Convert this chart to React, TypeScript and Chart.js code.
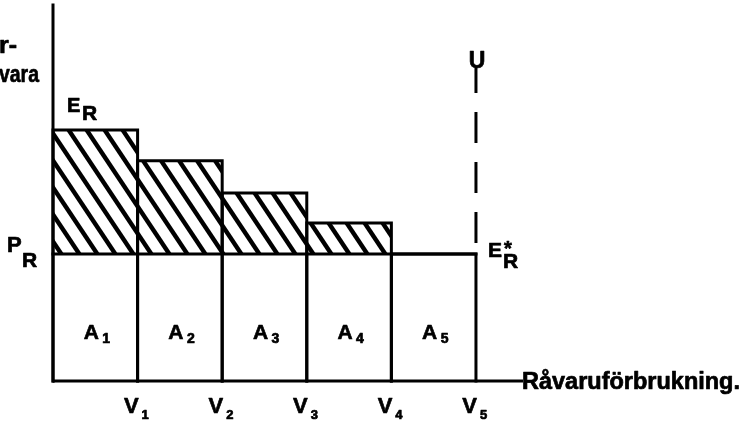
import React, { useEffect, useRef } from "react";
import { Chart, registerables } from "chart.js";

Chart.register(...registerables);

// ---- data ----
const boundaries = [0, 1, 2, 3, 4, 5]; // V0 .. V5 on the consumption axis
const costLevels = [5.93, 5.2, 4.44, 3.73, 3.0]; // E_R level of each block
const priceLevel = 3.0; // P_R
const vSubscripts = ["1", "2", "3", "4", "5"];
const areaSubscripts = ["1", "2", "3", "4", "5"];
const uLineRange = [3.17, 7.42]; // dashed U line (bottom, top)
const xAxisMax = 5.556;
const yAxisMax = 8.882;
const xAxisTitle = "Råvaruförbrukning.";
const yAxisTitleLines = ["r-", "vara"];

const FONT = "'Liberation Sans', Arial, sans-serif";

function makeHatch(): CanvasPattern | string {
  const W = 18;
  const H = 27;
  const c = document.createElement("canvas");
  c.width = W;
  c.height = H;
  const g = c.getContext("2d");
  if (!g) return "#000";
  g.fillStyle = "#fff";
  g.fillRect(0, 0, W, H);
  g.strokeStyle = "#000";
  g.lineWidth = 4.4;
  for (let k = -2; k <= 2; k++) {
    g.beginPath();
    g.moveTo(k * W - W, -H);
    g.lineTo(k * W + 2 * W, 2 * H);
    g.stroke();
  }
  const p = g.createPattern(c, "repeat");
  return p || "#000";
}

const textPlugin = {
  id: "diagramText",
  afterDraw(chart: any) {
    const ctx = chart.ctx as CanvasRenderingContext2D;
    const xs = chart.scales.x;
    const ys = chart.scales.y;
    const px = (v: number) => xs.getPixelForValue(v);
    const py = (v: number) => ys.getPixelForValue(v);
    const bold = (s: number) => `bold ${s}px ${FONT}`;
    ctx.save();
    ctx.fillStyle = "#000";
    ctx.strokeStyle = "#000";
    ctx.lineWidth = 0.7;
    ctx.lineJoin = "round";
    ctx.textBaseline = "alphabetic";

    const text = (t: string, x: number, y: number, size: number, align: CanvasTextAlign = "left") => {
      ctx.font = bold(size);
      ctx.textAlign = align;
      ctx.fillText(t, x, y);
      ctx.strokeText(t, x, y);
    };
    const fitText = (t: string, x: number, y: number, size: number, width: number, align: "left" | "right") => {
      ctx.font = bold(size);
      ctx.textAlign = "left";
      const w = ctx.measureText(t).width;
      const s = width / w;
      ctx.save();
      const left = align === "left" ? x : x - width;
      ctx.translate(left, y);
      ctx.scale(s, 1);
      ctx.fillText(t, 0, 0);
      ctx.strokeText(t, 0, 0);
      ctx.restore();
    };

    const x0 = px(0);
    const y0 = py(0);

    // V labels
    for (let i = 1; i < boundaries.length; i++) {
      const bx = px(boundaries[i]);
      text("V", bx + 1, y0 + 32, 22, "right");
      text(vSubscripts[i - 1], bx + 4, y0 + 38, 13, "left");
    }
    // A labels
    for (let i = 0; i < costLevels.length; i++) {
      const cx = (px(boundaries[i]) + px(boundaries[i + 1])) / 2;
      text("A", cx - 4, y0 - 42, 21, "center");
      text(areaSubscripts[i], cx + 7, y0 - 38, 14, "left");
    }
    // E_R
    const eTop = py(costLevels[0]);
    text("E", x0 + 14, eTop - 18, 20);
    text("R", x0 + 29, eTop - 10, 21);
    // P_R
    const pY = py(priceLevel);
    text("P", x0 - 46, pY - 2, 22);
    text("R", x0 - 31, pY + 13, 21);
    // E*_R
    const v5 = px(boundaries[boundaries.length - 1]);
    text("E", v5 + 12, pY + 3, 21);
    text("*", v5 + 28, pY + 1, 20);
    text("R", v5 + 27, pY + 14, 21);
    // U
    text("U", v5 + 1, py(uLineRange[1]) + 1, 23, "center");
    // axis titles
    fitText(xAxisTitle, px(xAxisMax) - 1, y0 + 8, 23, 218, "left");
    fitText(yAxisTitleLines[0], x0 - 36, py(yAxisMax) + 48, 24, 18, "right");
    fitText(yAxisTitleLines[1], x0 - 14, py(yAxisMax) + 77, 24, 40, "right");
    ctx.restore();
  },
};

export default function App() {
  const ref = useRef<HTMLCanvasElement | null>(null);
  useEffect(() => {
    if (!ref.current) return;
    const hatch = makeHatch();
    const line = (data: { x: number; y: number }[], extra: any = {}) => ({
      data,
      borderColor: "#000",
      borderWidth: 3,
      pointRadius: 0,
      fill: false,
      tension: 0,
      clip: false,
      borderJoinStyle: "miter",
      borderCapStyle: "square",
      order: 1,
      ...extra,
    });
    const datasets: any[] = [];
    // axes
    datasets.push(line([{ x: 0, y: 0 }, { x: 0, y: yAxisMax }]));
    datasets.push(line([{ x: 0, y: 0 }, { x: xAxisMax, y: 0 }], { borderCapStyle: "butt" }));
    // P_R line
    datasets.push(
      line([
        { x: boundaries[0], y: priceLevel },
        { x: boundaries[boundaries.length - 1], y: priceLevel },
      ])
    );
    // block outlines
    costLevels.forEach((lvl, i) => {
      datasets.push(
        line([
          { x: boundaries[i], y: 0 },
          { x: boundaries[i], y: lvl },
          { x: boundaries[i + 1], y: lvl },
          { x: boundaries[i + 1], y: 0 },
        ])
      );
    });
    // dashed U line
    datasets.push(
      line(
        [
          { x: boundaries[boundaries.length - 1], y: uLineRange[1] },
          { x: boundaries[boundaries.length - 1], y: uLineRange[0] },
        ],
        { borderDash: [31, 19], borderDashOffset: 5, borderCapStyle: "butt" }
      )
    );
    // hatched cost excess
    costLevels.forEach((lvl, i) => {
      if (lvl <= priceLevel) return;
      datasets.push({
        data: [
          { x: boundaries[i], y: lvl },
          { x: boundaries[i + 1], y: lvl },
        ],
        borderWidth: 0,
        borderColor: "rgba(0,0,0,0)",
        backgroundColor: hatch,
        pointRadius: 0,
        fill: { value: priceLevel },
        order: 5,
      });
    });

    const chart = new Chart(ref.current, {
      type: "line",
      data: { datasets },
      options: {
        animation: false,
        responsive: false,
        maintainAspectRatio: false,
        parsing: false as any,
        normalized: true,
        layout: { padding: { left: 53, right: 217, top: 5, bottom: 42 } },
        scales: {
          x: { type: "linear", display: false, min: 0, max: xAxisMax },
          y: { type: "linear", display: false, min: 0, max: yAxisMax },
        },
        plugins: {
          legend: { display: false },
          tooltip: { enabled: false },
        },
        events: [],
      },
      plugins: [textPlugin],
    });
    return () => chart.destroy();
  }, []);
  return (
    <div style={{ position: "fixed", left: 0, top: 0, width: 740, height: 423, background: "#fff" }}>
      <canvas ref={ref} width={740} height={423} style={{ width: 740, height: 423, display: "block" }} />
    </div>
  );
}
